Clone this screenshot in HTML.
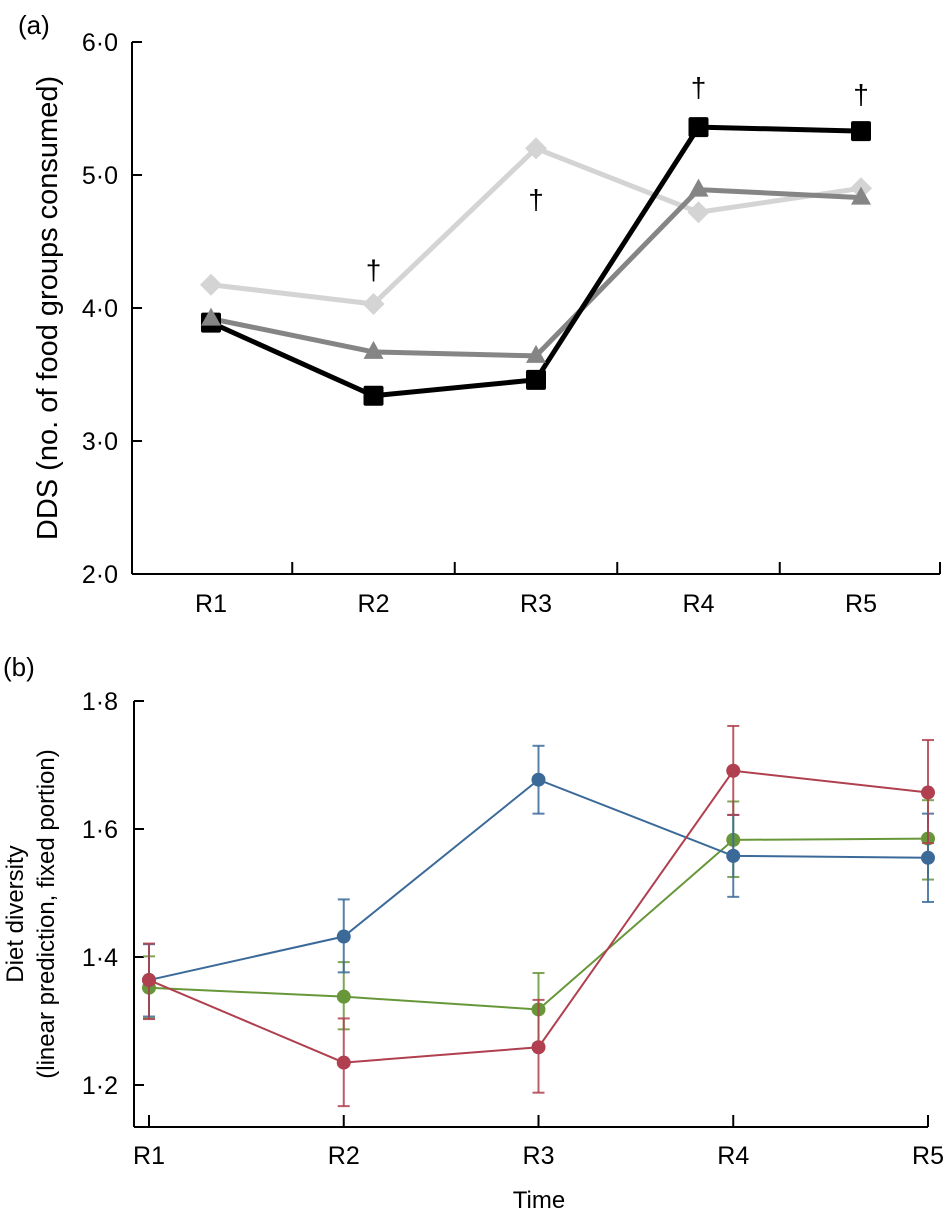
<!DOCTYPE html>
<html><head><meta charset="utf-8"><style>
html,body{margin:0;padding:0;background:#fff;}
svg{display:block;font-family:"Liberation Sans",sans-serif;}
</style></head><body>
<svg id="fig" width="950" height="1214" viewBox="0 0 950 1214" xmlns="http://www.w3.org/2000/svg">
<g id="pa"></g>
<g id="pb"></g>
</svg>
<script>
const categories = ["R1","R2","R3","R4","R5"];
// Panel (a)
const aTicks = [2.0,3.0,4.0,5.0,6.0];
const aTickLabels = ["2·0","3·0","4·0","5·0","6·0"];
const aLight = [4.175,4.03,5.20,4.72,4.90];
const aGray = [3.92,3.67,3.64,4.89,4.83];
const aBlack = [3.89,3.34,3.46,5.36,5.33];
const aDaggerCats = [1,2,3,4];
const aDaggerVals = [4.29,4.82,5.66,5.61];
// Panel (b)
const bTicks = [1.2,1.4,1.6,1.8];
const bTickLabels = ["1·2","1·4","1·6","1·8"];
const bBlue = [1.364,1.432,1.677,1.558,1.555];
const bBlueHi = [1.420,1.490,1.730,1.622,1.624];
const bBlueLo = [1.307,1.376,1.624,1.494,1.486];
const bRed = [1.364,1.235,1.259,1.691,1.657];
const bRedHi = [1.421,1.304,1.333,1.761,1.739];
const bRedLo = [1.303,1.167,1.188,1.622,1.578];
const bGreen = [1.352,1.338,1.318,1.583,1.585];
const bGreenHi = [1.401,1.392,1.375,1.643,1.645];
const bGreenLo = [1.304,1.287,1.265,1.525,1.521];

const NS="http://www.w3.org/2000/svg";
function mk(parent,tag,attrs,text){const e=document.createElementNS(NS,tag);for(const k in attrs)e.setAttribute(k,attrs[k]);if(text!==undefined)e.textContent=text;parent.appendChild(e);return e;}

// ---------- Panel A ----------
const pa=document.getElementById('pa');
const aX0=132,aXend=940,aYtop=42,aYbot=574;
const ay=v=>aYbot-(v-2)*(aYbot-aYtop)/4;
const ax=i=>211+i*162.5;
let t=mk(pa,'text',{x:18,y:34,'font-size':26},'(a)');


let l=mk(pa,'line',{x1:aX0,y1:aYtop,x2:aX0,y2:aYbot,stroke:'#000','stroke-width':2});


l=mk(pa,'line',{x1:aX0,y1:aYbot,x2:aXend,y2:aYbot,stroke:'#000','stroke-width':2});


aTicks.forEach((v,i)=>{
  const tk=mk(pa,'line',{x1:aX0,y1:ay(v),x2:aX0+10,y2:ay(v),stroke:'#000','stroke-width':2});
  
  
  const tl=mk(pa,'text',{x:118,y:ay(v)+9,'font-size':25,'text-anchor':'end'},aTickLabels[i]);
  
  
});
for(let i=0;i<=4;i++){
  const xx=i<4?ax(i)+81.25:aXend;
  const tk=mk(pa,'line',{x1:xx,y1:aYbot,x2:xx,y2:aYbot-12,stroke:'#000','stroke-width':2});
  
  
}
categories.forEach((c,i)=>{
  const tl=mk(pa,'text',{x:ax(i),y:612,'font-size':25,'text-anchor':'middle'},c);
  
  
});
t=mk(pa,'text',{x:0,y:0,'font-size':29,'text-anchor':'middle',transform:`translate(57,${(aYtop+aYbot)/2}) rotate(-90)`},'DDS (no. of food groups consumed)');


function aLine(vals,color,name){
  const p=mk(pa,'polyline',{points:vals.map((v,i)=>ax(i)+','+ay(v)).join(' '),fill:'none',stroke:color,'stroke-width':5,'stroke-linejoin':'round'});
  
  
}
aLine(aLight,'#d4d4d4','line-light-gray');
aLight.forEach((v,i)=>{const x=ax(i),y=ay(v);
  const m=mk(pa,'polygon',{points:`${x},${y-11} ${x+11},${y} ${x},${y+11} ${x-11},${y}`,fill:'#d4d4d4'});
  
  });
aLine(aGray,'#858585','line-gray');
aLine(aBlack,'#000','line-black');
aBlack.forEach((v,i)=>{const x=ax(i),y=ay(v);
  const m=mk(pa,'rect',{x:x-10,y:y-10,width:20,height:20,rx:2,fill:'#000'});
  
  });
aGray.forEach((v,i)=>{const x=ax(i),y=ay(v);
  const m=mk(pa,'polygon',{points:`${x},${y-11} ${x+10},${y+7} ${x-10},${y+7}`,fill:'#858585'});
  
  });
aDaggerCats.forEach((c,i)=>{
  const d=mk(pa,'text',{x:ax(c),y:ay(aDaggerVals[i])+10,'font-size':28,'text-anchor':'middle'},'†');
  
  
});

// ---------- Panel B ----------
const pb=document.getElementById('pb');
const bX0=134,bXend=928,bYbot=1127;
const by=v=>701+(1.8-v)*640;
const bx=i=>149+i*194.75;
t=mk(pb,'text',{x:3,y:676,'font-size':26},'(b)');


l=mk(pb,'line',{x1:bX0,y1:701,x2:bX0,y2:bYbot,stroke:'#000','stroke-width':2});


l=mk(pb,'line',{x1:bX0,y1:bYbot,x2:bXend,y2:bYbot,stroke:'#000','stroke-width':2});


bTicks.forEach((v,i)=>{
  const tk=mk(pb,'line',{x1:bX0,y1:by(v),x2:bX0+10,y2:by(v),stroke:'#000','stroke-width':2});
  
  
  const tl=mk(pb,'text',{x:118,y:by(v)+9,'font-size':25,'text-anchor':'end'},bTickLabels[i]);
  
  
});
categories.forEach((c,i)=>{
  const tk=mk(pb,'line',{x1:bx(i),y1:bYbot,x2:bx(i),y2:bYbot-12,stroke:'#000','stroke-width':2});
  
  
  const tl=mk(pb,'text',{x:bx(i),y:1164,'font-size':25,'text-anchor':'middle'},c);
  
  
});
t=mk(pb,'text',{x:(bX0+bXend)/2+8,y:1208,'font-size':24,'text-anchor':'middle'},'Time');


t=mk(pb,'text',{x:0,y:0,'font-size':24,'text-anchor':'middle',transform:'translate(23,914) rotate(-90)'},'Diet diversity');


t=mk(pb,'text',{x:0,y:0,'font-size':24,'text-anchor':'middle',transform:'translate(54,914) rotate(-90)'},'(linear prediction, fixed portion)');


function bSeries(vals,hi,lo,color,name){
  hi.forEach((h,i)=>{const x=bx(i);
    const e=mk(pb,'line',{x1:x,y1:by(h),x2:x,y2:by(lo[i]),stroke:color,'stroke-width':2,opacity:0.85});
    
    
    const c1=mk(pb,'line',{x1:x-6,y1:by(h),x2:x+6,y2:by(h),stroke:color,'stroke-width':2,opacity:0.85});
    
    
    const c2=mk(pb,'line',{x1:x-6,y1:by(lo[i]),x2:x+6,y2:by(lo[i]),stroke:color,'stroke-width':2,opacity:0.85});
    
    
  });
  const p=mk(pb,'polyline',{points:vals.map((v,i)=>bx(i)+','+by(v)).join(' '),fill:'none',stroke:color,'stroke-width':2});
  
  
  vals.forEach((v,i)=>{
    const c=mk(pb,'circle',{cx:bx(i),cy:by(v),r:7,fill:color});
    
    
  });
}
bSeries(bGreen,bGreenHi,bGreenLo,'#68973a','green-series');
bSeries(bBlue,bBlueHi,bBlueLo,'#3b6a99','blue-series');
bSeries(bRed,bRedHi,bRedLo,'#b0404f','red-series');
</script>
</body></html>
